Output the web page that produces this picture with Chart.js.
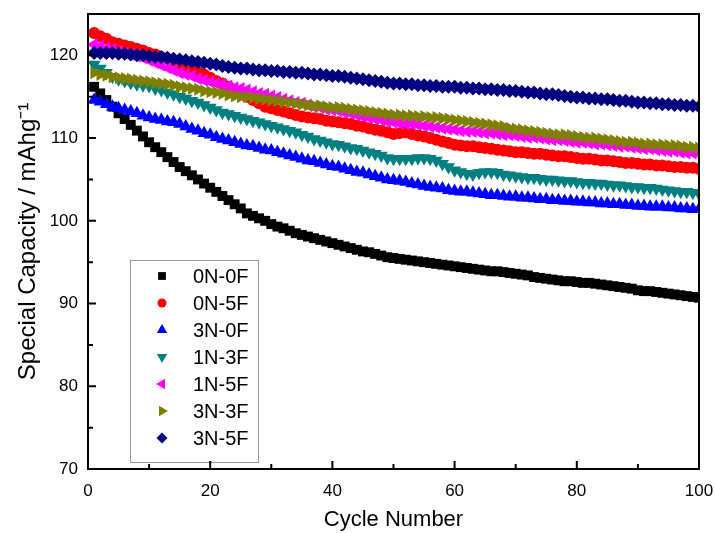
<!DOCTYPE html>
<html>
<head>
<meta charset="utf-8">
<script src="https://cdn.jsdelivr.net/npm/chart.js@4.4.1/dist/chart.umd.min.js"></script>
<style>
  html, body { margin: 0; padding: 0; background: #fff; }
  #wrap { width: 715px; height: 533px; }
</style>
</head>
<body>
<div id="wrap"><canvas id="chart" width="715" height="533"></canvas></div>
<script>
// cycle numbers on the x axis
const cycles = Array.from({ length: 100 }, (_, i) => i + 1);

const xTicks = [0, 20, 40, 60, 80, 100];
const xMinorTicks = [10, 30, 50, 70, 90];
const yTicks = [70, 80, 90, 100, 110, 120];
const yMinorTicks = [75, 85, 95, 105, 115];

const seriesNames = ['0N-0F', '0N-5F', '3N-0F', '1N-3F', '1N-5F', '3N-3F', '3N-5F'];

// capacity readings (mAh/g), cycles 1..100
const cap0N0F = [
  116.2, 115.4, 114.6, 113.8, 113.0, 112.3, 111.6, 110.9, 110.2, 109.5,
  108.9, 108.3, 107.7, 107.1, 106.5, 106.0, 105.5, 105.0, 104.5, 104.0,
  103.5, 103.0, 102.5, 102.0, 101.5, 100.9, 100.6, 100.3, 100.0, 99.6,
  99.3, 99.1, 98.8, 98.5, 98.3, 98.1, 97.9, 97.7, 97.5, 97.3,
  97.1, 96.9, 96.7, 96.5, 96.3, 96.2, 96.0, 95.8, 95.6, 95.5,
  95.4, 95.3, 95.2, 95.1, 95.0, 94.9, 94.8, 94.7, 94.6, 94.5,
  94.4, 94.3, 94.2, 94.1, 94.0, 93.9, 93.9, 93.8, 93.7, 93.6,
  93.5, 93.4, 93.2, 93.1, 93.0, 92.9, 92.8, 92.7, 92.7, 92.6,
  92.5, 92.5, 92.4, 92.3, 92.2, 92.1, 92.0, 91.9, 91.8, 91.6,
  91.5, 91.5, 91.4, 91.3, 91.2, 91.1, 91.0, 90.9, 90.8, 90.7
];
const cap0N5F = [
  122.7, 122.3, 122.0, 121.6, 121.4, 121.2, 121.0, 120.8, 120.6, 120.3,
  120.1, 119.8, 119.6, 119.3, 119.0, 118.7, 118.4, 118.0, 117.7, 117.3,
  116.9, 116.6, 116.2, 115.8, 115.4, 115.0, 114.6, 114.2, 113.8, 113.6,
  113.4, 113.2, 113.0, 112.8, 112.6, 112.5, 112.4, 112.3, 112.1, 112.0,
  111.9, 111.8, 111.7, 111.5, 111.4, 111.2, 111.0, 110.9, 110.7, 110.5,
  110.6, 110.7, 110.5, 110.3, 110.2, 110.0, 109.8, 109.6, 109.4, 109.2,
  109.1, 109.0, 109.0, 108.9, 108.8, 108.7, 108.6, 108.5, 108.4, 108.3,
  108.3, 108.2, 108.1, 108.1, 108.0, 107.9, 107.8, 107.8, 107.7, 107.6,
  107.5, 107.5, 107.4, 107.3, 107.3, 107.2, 107.1, 107.0, 107.0, 106.9,
  106.8, 106.8, 106.7, 106.7, 106.6, 106.5, 106.5, 106.4, 106.4, 106.3
];
const cap3N0F = [
  114.6, 114.4, 114.1, 113.8, 113.6, 113.4, 113.2, 113.0, 112.7, 112.5,
  112.3, 112.2, 112.0, 111.9, 111.7, 111.4, 111.1, 110.9, 110.6, 110.4,
  110.1, 109.9, 109.7, 109.5, 109.3, 109.1, 109.0, 108.8, 108.6, 108.5,
  108.3, 108.1, 107.9, 107.7, 107.5, 107.3, 107.2, 107.0, 106.8, 106.6,
  106.5, 106.3, 106.1, 105.9, 105.8, 105.6, 105.4, 105.2, 105.0, 104.9,
  104.8, 104.7, 104.5, 104.4, 104.2, 104.1, 104.0, 103.9, 103.7, 103.6,
  103.5, 103.5, 103.4, 103.3, 103.2, 103.1, 103.1, 103.0, 102.9, 102.9,
  102.8, 102.8, 102.7, 102.6, 102.6, 102.5, 102.5, 102.4, 102.4, 102.3,
  102.3, 102.2, 102.2, 102.1, 102.1, 102.0, 102.0, 101.9, 101.9, 101.8,
  101.8, 101.7, 101.7, 101.7, 101.6, 101.6, 101.5, 101.5, 101.4, 101.4
];
const cap1N3F = [
  118.9, 118.4, 117.9, 117.4, 117.1, 116.9, 116.7, 116.5, 116.4, 116.3,
  116.0, 115.8, 115.5, 115.3, 115.0, 114.8, 114.5, 114.3, 114.0, 113.7,
  113.4, 113.1, 112.9, 112.7, 112.5, 112.3, 112.1, 111.9, 111.7, 111.5,
  111.3, 111.1, 110.9, 110.7, 110.4, 110.2, 109.9, 109.7, 109.5, 109.3,
  109.2, 109.0, 108.8, 108.7, 108.5, 108.3, 108.1, 107.9, 107.6, 107.5,
  107.5, 107.5, 107.5, 107.6, 107.6, 107.5, 107.3, 106.9, 106.5, 106.1,
  105.9, 105.7, 105.6, 105.8, 105.9, 105.9, 105.8, 105.6, 105.5, 105.4,
  105.3, 105.2, 105.2, 105.1, 105.0, 105.0, 104.9, 104.8, 104.8, 104.7,
  104.6, 104.6, 104.5, 104.5, 104.4, 104.3, 104.3, 104.2, 104.1, 104.1,
  104.0, 104.0, 103.9, 103.8, 103.7, 103.6, 103.5, 103.5, 103.4, 103.3
];
const cap1N5F = [
  121.3, 121.1, 120.9, 120.7, 120.5, 120.3, 120.1, 119.9, 119.7, 119.4,
  119.1, 118.8, 118.5, 118.2, 117.9, 117.7, 117.5, 117.2, 117.0, 116.8,
  116.6, 116.5, 116.3, 116.1, 116.0, 115.8, 115.6, 115.4, 115.3, 115.1,
  114.9, 114.7, 114.5, 114.3, 114.2, 114.0, 113.8, 113.7, 113.5, 113.4,
  113.3, 113.1, 113.0, 112.8, 112.6, 112.5, 112.3, 112.2, 112.0, 111.9,
  111.8, 111.7, 111.7, 111.6, 111.5, 111.4, 111.3, 111.2, 111.1, 111.0,
  110.9, 110.8, 110.8, 110.7, 110.6, 110.6, 110.5, 110.4, 110.4, 110.3,
  110.2, 110.1, 110.1, 110.0, 109.9, 109.8, 109.8, 109.7, 109.6, 109.5,
  109.5, 109.4, 109.3, 109.3, 109.2, 109.1, 109.0, 109.0, 108.9, 108.8,
  108.7, 108.7, 108.6, 108.5, 108.4, 108.4, 108.3, 108.2, 108.2, 108.1
];
const cap3N3F = [
  117.9, 117.7, 117.6, 117.4, 117.3, 117.2, 117.1, 117.0, 116.9, 116.8,
  116.7, 116.6, 116.5, 116.4, 116.2, 116.1, 116.0, 115.9, 115.7, 115.6,
  115.5, 115.4, 115.2, 115.1, 115.0, 115.0, 114.9, 114.8, 114.7, 114.6,
  114.5, 114.4, 114.3, 114.2, 114.1, 114.0, 113.9, 113.9, 113.8, 113.7,
  113.7, 113.6, 113.5, 113.4, 113.3, 113.2, 113.1, 113.0, 112.9, 112.8,
  112.8, 112.7, 112.7, 112.6, 112.6, 112.5, 112.5, 112.4, 112.3, 112.2,
  112.1, 112.0, 111.9, 111.8, 111.7, 111.6, 111.5, 111.4, 111.2, 111.1,
  111.0, 110.9, 110.8, 110.7, 110.6, 110.5, 110.4, 110.4, 110.3, 110.2,
  110.1, 110.0, 110.0, 109.9, 109.8, 109.7, 109.6, 109.5, 109.5, 109.4,
  109.3, 109.3, 109.2, 109.2, 109.1, 109.1, 109.0, 108.9, 108.9, 108.8
];
const cap3N5F = [
  120.3, 120.3, 120.3, 120.3, 120.2, 120.2, 120.1, 120.0, 120.0, 119.9,
  119.8, 119.8, 119.7, 119.6, 119.5, 119.4, 119.3, 119.2, 119.1, 119.0,
  118.9, 118.7, 118.6, 118.5, 118.4, 118.4, 118.3, 118.2, 118.2, 118.1,
  118.1, 118.0, 118.0, 117.9, 117.9, 117.8, 117.7, 117.7, 117.6, 117.5,
  117.5, 117.4, 117.3, 117.2, 117.1, 117.0, 116.9, 116.8, 116.7, 116.6,
  116.6, 116.5, 116.5, 116.4, 116.4, 116.3, 116.3, 116.2, 116.2, 116.2,
  116.1, 116.1, 116.0, 116.0, 115.9, 115.9, 115.8, 115.8, 115.7, 115.7,
  115.6, 115.5, 115.5, 115.4, 115.3, 115.3, 115.2, 115.1, 115.0, 114.9,
  114.9, 114.8, 114.8, 114.7, 114.7, 114.6, 114.5, 114.5, 114.4, 114.3,
  114.3, 114.2, 114.2, 114.1, 114.1, 114.0, 114.0, 113.9, 113.9, 113.8
];

const seriesValues = [cap0N0F, cap0N5F, cap3N0F, cap1N3F, cap1N5F, cap3N3F, cap3N5F];
const seriesColors = ['#000000', '#ff0000', '#0000ff', '#008080', '#ff00ff', '#808000', '#000080'];
const seriesShapes = ['rect', 'circle', 'triangle', 'triangle', 'triangle', 'triangle', 'rectRot'];
const seriesRotation = [0, 0, 0, 180, 270, 90, 0];
const seriesRadius = [7, 6, 7.5, 7.5, 7.5, 7.5, 7];

const FONT = '"Liberation Sans", Arial, sans-serif';

const datasets = seriesNames.map((name, i) => ({
  label: name,
  data: cycles.map((c, k) => ({ x: c, y: seriesValues[i][k] })),
  showLine: false,
  pointStyle: seriesShapes[i],
  pointRotation: seriesRotation[i],
  pointRadius: seriesRadius[i],
  pointBackgroundColor: seriesColors[i],
  pointBorderColor: seriesColors[i],
  pointBorderWidth: 0,
  order: seriesNames.length - i, // later series on top, like the original
}));

// legend box inside the plot, lower left
const legendBox = {
  id: 'legendBox',
  afterDatasetsDraw(chart) {
    const ctx = chart.ctx;
    const x0 = 130, y0 = 260, w = 128, h = 202, rowH = 27;
    ctx.save();
    ctx.fillStyle = '#fff';
    ctx.fillRect(x0, y0, w, h);
    ctx.strokeStyle = '#9a9a9a';
    ctx.lineWidth = 1;
    ctx.strokeRect(x0 + 0.5, y0 + 0.5, w, h);
    ctx.font = '20px ' + FONT;
    ctx.textBaseline = 'middle';
    seriesNames.forEach((name, i) => {
      const cy = y0 + 16 + i * rowH;
      ctx.fillStyle = seriesColors[i];
      Chart.helpers.drawPoint(ctx, {
        pointStyle: seriesShapes[i],
        rotation: seriesRotation[i],
        radius: seriesRadius[i] - 1.5,
        borderWidth: 0,
      }, x0 + 32, cy);
      ctx.fillStyle = '#000';
      ctx.fillText(name, x0 + 63, cy + 1);
    });
    ctx.restore();
  },
};

// box frame and inward tick marks
const frameTicks = {
  id: 'frameTicks',
  afterDraw(chart) {
    const { ctx, chartArea: a, scales: { x, y } } = chart;
    ctx.save();
    ctx.strokeStyle = '#000';
    ctx.lineWidth = 2;
    ctx.strokeRect(a.left, a.top, a.right - a.left, a.bottom - a.top);
    ctx.beginPath();
    xTicks.forEach(v => { const p = x.getPixelForValue(v); ctx.moveTo(p, a.bottom); ctx.lineTo(p, a.bottom - 8); });
    xMinorTicks.forEach(v => { const p = x.getPixelForValue(v); ctx.moveTo(p, a.bottom); ctx.lineTo(p, a.bottom - 5); });
    yTicks.forEach(v => { const p = y.getPixelForValue(v); ctx.moveTo(a.left, p); ctx.lineTo(a.left + 8, p); });
    yMinorTicks.forEach(v => { const p = y.getPixelForValue(v); ctx.moveTo(a.left, p); ctx.lineTo(a.left + 5, p); });
    ctx.stroke();
    ctx.restore();
  },
};

new Chart(document.getElementById('chart'), {
  type: 'scatter',
  data: { datasets },
  plugins: [legendBox, frameTicks],
  options: {
    responsive: false,
    animation: false,
    devicePixelRatio: 1,
    layout: { padding: { left: 14, top: 14, right: 16, bottom: 0 } },
    plugins: { legend: { display: false }, tooltip: { enabled: false } },
    scales: {
      x: {
        type: 'linear',
        min: 0,
        max: 100,
        afterBuildTicks: s => { s.ticks = xTicks.map(v => ({ value: v })); },
        afterFit: s => { s.height = 64; s.paddingLeft = 0; s.paddingRight = 0; },
        grid: { display: false, drawTicks: false },
        border: { display: false },
        ticks: { color: '#000', padding: 12, font: { family: FONT, size: 17 }, maxRotation: 0 },
        title: { display: true, text: 'Cycle Number', color: '#000', padding: { top: 0, bottom: 0 }, font: { family: FONT, size: 22 } },
      },
      y: {
        type: 'linear',
        min: 70,
        max: 125,
        afterBuildTicks: s => { s.ticks = yTicks.map(v => ({ value: v })); },
        afterFit: s => { s.width = 74; s.paddingTop = 0; s.paddingBottom = 0; },
        grid: { display: false, drawTicks: false },
        border: { display: false },
        ticks: { color: '#000', padding: 10, font: { family: FONT, size: 17 } },
        title: { display: true, text: 'Special Capacity / mAhg⁻¹', color: '#000', padding: { top: 0, bottom: 0 }, font: { family: FONT, size: 24 } },
      },
    },
  },
});
</script>
</body>
</html>
